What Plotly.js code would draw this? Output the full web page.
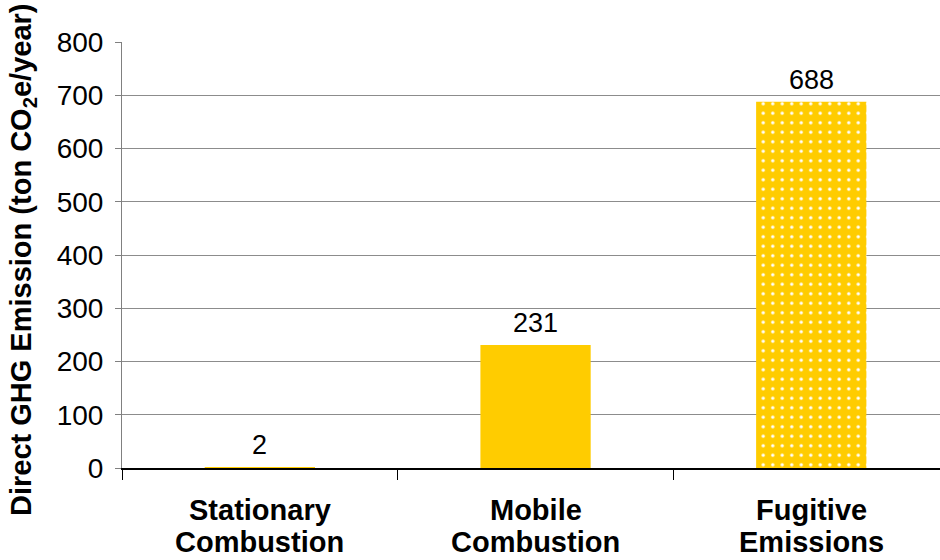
<!DOCTYPE html>
<html>
<head>
<meta charset="utf-8">
<script src="https://cdn.plot.ly/plotly-3.0.1.min.js"></script>
<style>
  html, body { margin: 0; padding: 0; background: #ffffff; }
  #chart { width: 940px; height: 560px; }
</style>
</head>
<body>
<div id="chart"></div>
<script>
// Direct GHG emissions by source (ton CO2e/year)
const categories = ["Stationary<br>Combustion", "Mobile<br>Combustion", "Fugitive<br>Emissions"];
const emissions = [2, 231, 688];
const yTicks = [0, 100, 200, 300, 400, 500, 600, 700, 800];
const yTitle = "Direct GHG Emission (ton CO<sub>2</sub>e/year)";

const FONT = "Arial, 'Liberation Sans', sans-serif";
const GOLD = "#FFCC00";

// Solid fill for the combustion sources, dotted fill for fugitive emissions
const solidIdx = [0, 1];
const dottedIdx = [2];

const solid = {
  type: "bar",
  x: solidIdx.map(i => categories[i]),
  y: solidIdx.map(i => emissions[i]),
  width: 0.4,
  marker: { color: GOLD, line: { width: 0 } },
  hoverinfo: "x+y",
  showlegend: false
};

const dotted = {
  type: "bar",
  x: dottedIdx.map(i => categories[i]),
  y: dottedIdx.map(i => emissions[i]),
  width: 0.4,
  marker: {
    color: GOLD,
    line: { width: 0 },
    pattern: { shape: ".", fillmode: "replace", bgcolor: GOLD, fgcolor: "#FFFFFF", size: 9.5, solidity: 0.1 }
  },
  hoverinfo: "x+y",
  showlegend: false
};

// Value labels above each bar
const valueLabels = categories.map((c, i) => ({
  x: c, y: emissions[i], xref: "x", yref: "y",
  text: String(emissions[i]),
  showarrow: false, yanchor: "bottom", yshift: 5,
  font: { family: FONT, size: 27, color: "#000000" }
}));

// Two-line bold category labels under the axis, one annotation per line
const categoryLabels = [];
categories.forEach(c => {
  c.split("<br>").forEach((line, k) => {
    categoryLabels.push({
      x: c, y: 0, xref: "x", yref: "paper",
      text: "<b>" + line + "</b>",
      showarrow: false, yanchor: "middle",
      yshift: -42 - 32 * k,
      font: { family: FONT, size: 29, color: "#000000" }
    });
  });
});

// Rotated y-axis title, placed left of the tick labels
const titleLabel = {
  x: 0, y: 0.5, xref: "paper", yref: "paper",
  xshift: -99, yshift: -5,
  text: "<b>" + yTitle + "</b>",
  textangle: -90,
  showarrow: false, xanchor: "center", yanchor: "middle",
  font: { family: FONT, size: 29, color: "#000000" }
};

const layout = {
  width: 940, height: 560,
  margin: { l: 122, r: 0, t: 42, b: 92 },
  paper_bgcolor: "#ffffff",
  plot_bgcolor: "#ffffff",
  barmode: "overlay",
  font: { family: FONT, color: "#000000" },
  xaxis: {
    type: "category",
    categoryorder: "array",
    categoryarray: categories,
    range: [-0.5, 2.467],
    tickson: "boundaries",
    ticks: "outside",
    ticklen: 10,
    tickcolor: "#000000",
    tickwidth: 1,
    showline: true,
    linecolor: "#000000",
    linewidth: 1.5,
    layer: "below traces",
    showgrid: false,
    showticklabels: false,
    fixedrange: true
  },
  yaxis: {
    range: [0, 800],
    tickmode: "array",
    tickvals: yTicks,
    ticktext: yTicks.map(String),
    ticks: "outside",
    ticklen: 6,
    tickcolor: "#808080",
    showline: true,
    linecolor: "#808080",
    linewidth: 1,
    showgrid: true,
    gridcolor: "#8c8c8c",
    gridwidth: 1,
    zeroline: false,
    ticklabelstandoff: 6,
    tickfont: { family: FONT, size: 28, color: "#000000" },
    automargin: false,
    fixedrange: true
  },
  annotations: valueLabels.concat(categoryLabels, [titleLabel])
};

Plotly.newPlot("chart", [solid, dotted], layout, { displayModeBar: false, staticPlot: true });
</script>
</body>
</html>
